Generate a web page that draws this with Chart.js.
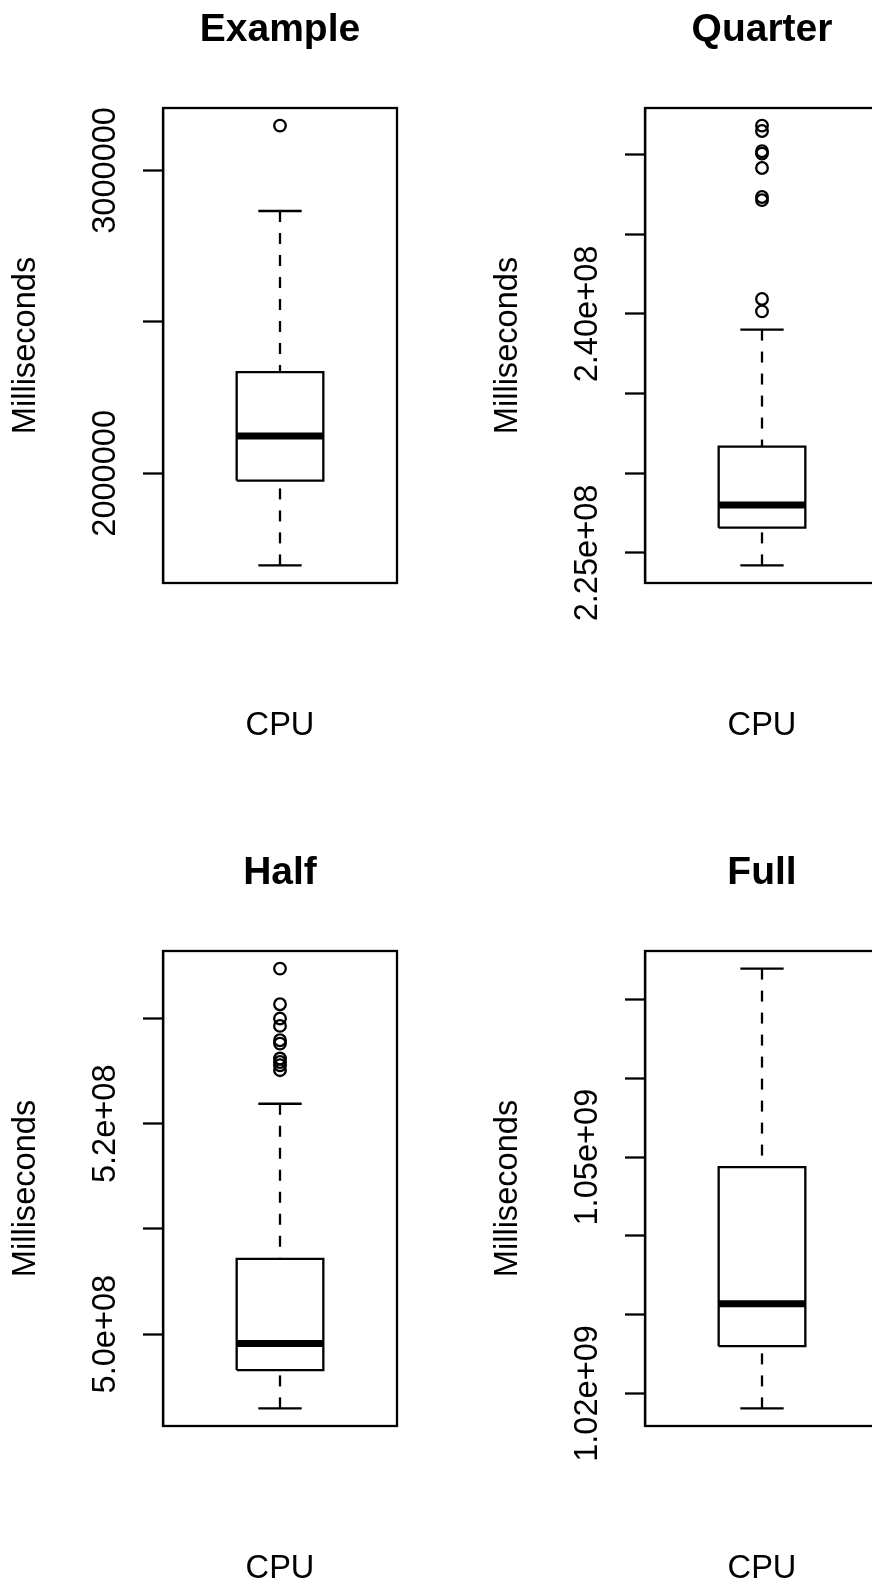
<!DOCTYPE html>
<html>
<head>
<meta charset="utf-8">
<script src="https://cdn.jsdelivr.net/npm/chart.js@4.4.1/dist/chart.umd.min.js"></script>
<style>
html, body { margin: 0; padding: 0; width: 872px; height: 1586px; overflow: hidden; background: #fff; }
.cell { position: absolute; width: 482px; height: 843px; }
canvas { display: block; }
</style>
</head>
<body>
<div class="cell" style="left:0px;top:0px"><canvas id="c0" width="482" height="843"></canvas></div>
<div class="cell" style="left:482px;top:0px"><canvas id="c1" width="482" height="843"></canvas></div>
<div class="cell" style="left:0px;top:843px"><canvas id="c2" width="482" height="843"></canvas></div>
<div class="cell" style="left:482px;top:843px"><canvas id="c3" width="482" height="843"></canvas></div>
<script>
// ---------------- data ----------------
const panelTitles = ['Example', 'Quarter', 'Half', 'Full'];
const xAxisTitle = 'CPU';
const yAxisTitle = 'Milliseconds';

const lowerWhisker = [1696000, 224220000, 492940000, 1018100000];
const lowerHinge   = [1976000, 226590000, 496580000, 1026000000];
const medians      = [2123000, 228010000, 499120000, 1031400000];
const upperHinge   = [2334000, 231670000, 507150000, 1048730000];
const upperWhisker = [2866000, 239020000, 521900000, 1073930000];

const outliersExample = [3148000];
const outliersQuarter = [251820000, 251480000, 250210000, 250060000, 249160000, 247340000, 247140000, 240940000, 240160000];
const outliersHalf = [534750000, 531360000, 530000000, 529300000, 527940000, 527620000, 526200000, 525870000, 525560000, 525090000];
const outliersFull = [];

const tickValuesExample = [2000000, 2500000, 3000000];
const tickLabelsExample = ['2000000', '', '3000000'];
const tickValuesQuarter = [225000000, 230000000, 235000000, 240000000, 245000000, 250000000];
const tickLabelsQuarter = ['2.25e+08', '', '', '2.40e+08', '', ''];
const tickValuesHalf = [500000000, 510000000, 520000000, 530000000];
const tickLabelsHalf = ['5.0e+08', '', '5.2e+08', ''];
const tickValuesFull = [1020000000, 1030000000, 1040000000, 1050000000, 1060000000, 1070000000];
const tickLabelsFull = ['1.02e+09', '', '', '1.05e+09', '', ''];

const outliers = [outliersExample, outliersQuarter, outliersHalf, outliersFull];
const tickValues = [tickValuesExample, tickValuesQuarter, tickValuesHalf, tickValuesFull];
const tickLabels = [tickLabelsExample, tickLabelsQuarter, tickLabelsHalf, tickLabelsFull];

// ---------------- style ----------------
const FONT = "'Liberation Sans', Arial, Helvetica, sans-serif";
const TEXT_SIZE = 32.6;
const TITLE_SIZE = 39;
const LW = 2.3;
const BOX_HALF = 0.2;
const STAPLE_HALF = 0.1;
const X_MIN = 0.46, X_MAX = 1.54;
const EXT = 0.04;

Chart.defaults.font.family = FONT;
Chart.defaults.color = '#000';

const rPlot = {
  id: 'rPlot',
  afterDraw(chart, args, opts) {
    const { ctx, chartArea: a } = chart;
    const ys = chart.scales.y;
    ctx.save();
    ctx.strokeStyle = '#000';
    ctx.lineWidth = LW;
    ctx.strokeRect(a.left, a.top, a.right - a.left, a.bottom - a.top);
    ctx.fillStyle = '#000';
    ctx.font = TEXT_SIZE + 'px ' + FONT;
    ctx.textAlign = 'center';
    ctx.textBaseline = 'alphabetic';
    ys.ticks.forEach((t, k) => {
      const label = opts.labels[k];
      if (!label) return;
      const y = ys.getPixelForValue(t.value);
      ctx.save();
      ctx.translate(a.left - 48, y);
      ctx.rotate(-Math.PI / 2);
      ctx.fillText(label, 0, 0);
      ctx.restore();
    });
    ctx.restore();
  }
};

function seg(p1, p2, extra) {
  return Object.assign({
    data: [p1, p2], showLine: true, pointRadius: 0, borderColor: '#000',
    borderWidth: LW, borderCapStyle: 'butt', fill: false
  }, extra || {});
}

function makePanel(i) {
  const lo = lowerWhisker[i], q1 = lowerHinge[i], md = medians[i], q3 = upperHinge[i], hi = upperWhisker[i];
  const all = [lo, hi].concat(outliers[i]);
  const dmin = Math.min(...all), dmax = Math.max(...all);
  const pad = (dmax - dmin) * EXT;

  const datasets = [
    seg({ x: 1 - BOX_HALF, y: md }, { x: 1 + BOX_HALF, y: md }, { borderWidth: 7 }),
    {
      data: [
        { x: 1 - BOX_HALF, y: q1 }, { x: 1 + BOX_HALF, y: q1 },
        { x: 1 + BOX_HALF, y: q3 }, { x: 1 - BOX_HALF, y: q3 }, { x: 1 - BOX_HALF, y: q1 }
      ],
      showLine: true, pointRadius: 0, borderColor: '#000', borderWidth: LW,
      borderJoinStyle: 'miter', fill: false
    },
    seg({ x: 1, y: hi }, { x: 1, y: q3 }, { borderDash: [11, 11] }),
    seg({ x: 1, y: lo }, { x: 1, y: q1 }, { borderDash: [11, 11] }),
    seg({ x: 1 - STAPLE_HALF, y: hi }, { x: 1 + STAPLE_HALF, y: hi }),
    seg({ x: 1 - STAPLE_HALF, y: lo }, { x: 1 + STAPLE_HALF, y: lo }),
    {
      data: outliers[i].map(v => ({ x: 1, y: v })),
      showLine: false, pointStyle: 'circle', pointRadius: 5.8,
      pointBorderWidth: LW, pointBorderColor: '#000', pointBackgroundColor: 'rgba(0,0,0,0)'
    }
  ];

  new Chart(document.getElementById('c' + i), {
    type: 'scatter',
    data: { datasets },
    options: {
      responsive: false,
      animation: false,
      events: [],
      layout: { padding: { left: 0, top: 0, right: 85, bottom: 0 } },
      plugins: {
        legend: { display: false },
        tooltip: { enabled: false },
        title: {
          display: true, text: panelTitles[i], fullSize: false, color: '#000',
          font: { size: TITLE_SIZE, weight: 'bold', lineHeight: 1 },
          padding: { top: 10.3, bottom: 58.7 }
        },
        rPlot: { labels: tickLabels[i] }
      },
      scales: {
        x: {
          type: 'linear', min: X_MIN, max: X_MAX,
          grid: { display: false }, border: { display: false }, ticks: { display: false },
          title: {
            display: true, text: xAxisTitle, color: '#000',
            font: { size: TEXT_SIZE, lineHeight: 1 }, padding: { top: 0, bottom: 100.9 }
          },
          afterFit: s => { s.height = 260; }
        },
        y: {
          type: 'linear', min: dmin - pad, max: dmax + pad,
          afterBuildTicks: s => { s.ticks = tickValues[i].map(v => ({ value: v })); },
          ticks: { display: false },
          grid: { display: true, drawOnChartArea: false, drawTicks: true, tickLength: 20, tickWidth: LW, tickColor: '#000', color: '#000' },
          border: { display: true, color: '#000', width: LW },
          title: {
            display: true, text: yAxisTitle, color: '#000',
            font: { size: TEXT_SIZE, lineHeight: 1 }, padding: { top: 9.5, bottom: 0 }
          },
          afterFit: s => { s.width = 163; }
        }
      }
    },
    plugins: [rPlot]
  });
}

[0, 1, 2, 3].forEach(makePanel);
</script>
</body>
</html>
